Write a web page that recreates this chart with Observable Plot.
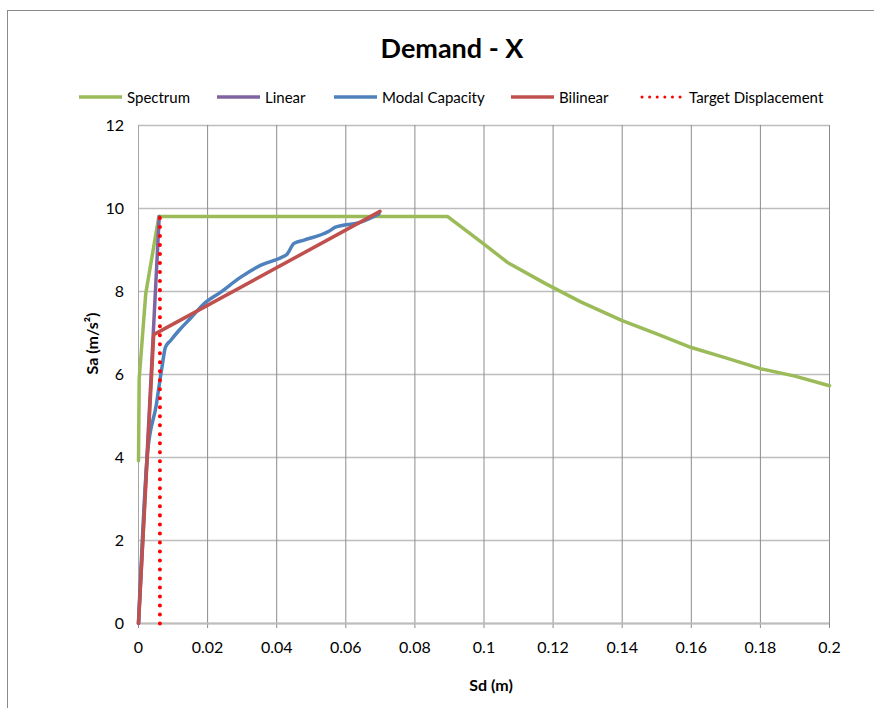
<!DOCTYPE html>
<html>
<head>
<meta charset="utf-8">
<script src="https://cdn.jsdelivr.net/npm/d3@7"></script>
<script src="https://cdn.jsdelivr.net/npm/@observablehq/plot@0.6"></script>
<style>
  html, body { margin: 0; padding: 0; background: #fff; }
  body { font-family: Lato, "Liberation Sans", sans-serif; }
  #wrap { position: relative; width: 874px; height: 708px; overflow: hidden; background: #fff; }
  #frame { position: absolute; left: 7px; top: 10px; width: 1000px; height: 1000px; border: 1px solid #8a8a8a; box-sizing: border-box; }
  #header { position: relative; height: 110px; }
  #title { position: absolute; left: 452px; top: 34px; transform: translateX(-50%); font-size: 27px; font-weight: bold; line-height: 27px; white-space: nowrap; color: #000; }
  .item { position: absolute; top: 88px; height: 18px; display: flex; align-items: center; font-size: 15px; color: #000; white-space: nowrap; }
  .item svg { margin-right: 5px; }
  #chart { position: relative; }
</style>
</head>
<body>
<div id="wrap">
  <div id="frame"></div>
  <div id="header">
    <div id="title">Demand - X</div>
    <div id="legend"></div>
  </div>
  <div id="chart"></div>
</div>
<script>
// ---- Data ----
const spectrumSd = [0, 0.0002, 0.0021, 0.0059, 0.0894, 0.0999, 0.1068, 0.1178, 0.128, 0.14, 0.15, 0.16, 0.17, 0.18, 0.19, 0.2];
const spectrumSa = [3.92, 5.9, 7.95, 9.81, 9.81, 9.15, 8.70, 8.19, 7.75, 7.30, 6.98, 6.65, 6.40, 6.14, 5.96, 5.73];

const linearSd = [0, 0.006];
const linearSa = [0, 9.81];

const modalSd = [0, 0.0026, 0.0052, 0.0062, 0.0068, 0.0078, 0.0093, 0.0117, 0.015, 0.0189, 0.0237, 0.0295, 0.0353, 0.0416, 0.043, 0.045, 0.0479, 0.0551, 0.057, 0.0643, 0.0696];
const modalSa = [0, 4.1, 5.29, 5.86, 6.18, 6.66, 6.82, 7.06, 7.35, 7.7, 7.98, 8.34, 8.63, 8.83, 8.9, 9.16, 9.24, 9.45, 9.55, 9.67, 9.87];

const bilinearSd = [0, 0.0044, 0.0699];
const bilinearSa = [0, 6.96, 9.93];

const targetSd = [0.0062, 0.0062];
const targetSa = [0, 9.78];

const seriesNames = ["Spectrum", "Linear", "Modal Capacity", "Bilinear", "Target Displacement"];
const seriesColors = ["#9BBB59", "#8064A2", "#4F81BD", "#C0504D", "#FF0000"];

const xTicks = [0, 0.02, 0.04, 0.06, 0.08, 0.1, 0.12, 0.14, 0.16, 0.18, 0.2];
const yTicks = [0, 2, 4, 6, 8, 10, 12];

const toRows = (xs, ys) => xs.map((x, i) => ({x, y: ys[i]}));
const spectrum = toRows(spectrumSd, spectrumSa);
const linear = toRows(linearSd, linearSa);
const modal = toRows(modalSd, modalSa);
const bilinear = toRows(bilinearSd, bilinearSa);
const target = toRows(targetSd, targetSa);

// ---- Legend ----
const legendLefts = [79, 217, 334, 511, 640];
const legend = document.getElementById("legend");
seriesNames.forEach((name, i) => {
  const div = document.createElement("div");
  div.className = "item";
  div.style.left = legendLefts[i] + "px";
  const dotted = i === 4;
  const sw = dotted
    ? `<svg width="44" height="10"><line x1="2" y1="5" x2="44" y2="5" stroke="${seriesColors[i]}" stroke-width="3" stroke-linecap="round" stroke-dasharray="0.01 7.6"/></svg>`
    : `<svg width="43" height="10"><line x1="0" y1="5" x2="43" y2="5" stroke="${seriesColors[i]}" stroke-width="3.5"/></svg>`;
  div.innerHTML = sw + `<span>${name}</span>`;
  legend.appendChild(div);
});

// ---- Chart ----
const fmt = d => String(+d.toFixed(2));
const chart = Plot.plot({
  width: 874,
  height: 598,
  marginTop: 15,
  marginBottom: 85,
  marginLeft: 138,
  marginRight: 45,
  x: {domain: [0, 0.2]},
  y: {domain: [0, 12]},
  style: {fontFamily: "Lato, 'Liberation Sans', sans-serif", fontSize: "16px", color: "#000", background: "transparent", overflow: "visible"},
  marks: [
    Plot.gridY(yTicks, {stroke: "#bdbdbd", strokeOpacity: 1, strokeWidth: 1.5}),
    Plot.gridX(xTicks, {stroke: "#8c8c8c", strokeOpacity: 1, strokeWidth: 1}),
    Plot.axisX(xTicks, {tickSize: 5, tickPadding: 13, stroke: "#8c8c8c", fill: "#000", tickFormat: fmt, label: null, fontSize: 16}),
    Plot.axisY(yTicks, {tickSize: 0, tickPadding: 14.5, fill: "#000", tickFormat: d => String(d), label: null, fontSize: 16}),
    Plot.ruleY([0], {stroke: "#bdbdbd", strokeWidth: 2}),
    Plot.ruleX([0], {stroke: "#a6a6a6", strokeWidth: 1}),
    Plot.line(spectrum, {x: "x", y: "y", stroke: seriesColors[0], strokeWidth: 3.5, strokeLinejoin: "round"}),
    Plot.line(linear, {x: "x", y: "y", stroke: seriesColors[1], strokeWidth: 3.5}),
    Plot.line(modal, {x: "x", y: "y", stroke: seriesColors[2], strokeWidth: 3.5, curve: "monotone-x"}),
    Plot.line(bilinear, {x: "x", y: "y", stroke: seriesColors[3], strokeWidth: 3.5}),
    Plot.line(target, {x: "x", y: "y", stroke: seriesColors[4], strokeWidth: 4, strokeLinecap: "round", strokeDasharray: "0.01 9"}),
    Plot.text(["Sd (m)"], {text: d => d, frameAnchor: "bottom", dx: 7, dy: 67, fontWeight: "bold", fontSize: 16, fill: "#000"}),
    Plot.text(["Sa (m/s²)"], {text: d => d, frameAnchor: "left", dx: -46, rotate: -90, fontWeight: "bold", fontSize: 16, fill: "#000"})
  ]
});
document.getElementById("chart").appendChild(chart);
</script>
</body>
</html>
